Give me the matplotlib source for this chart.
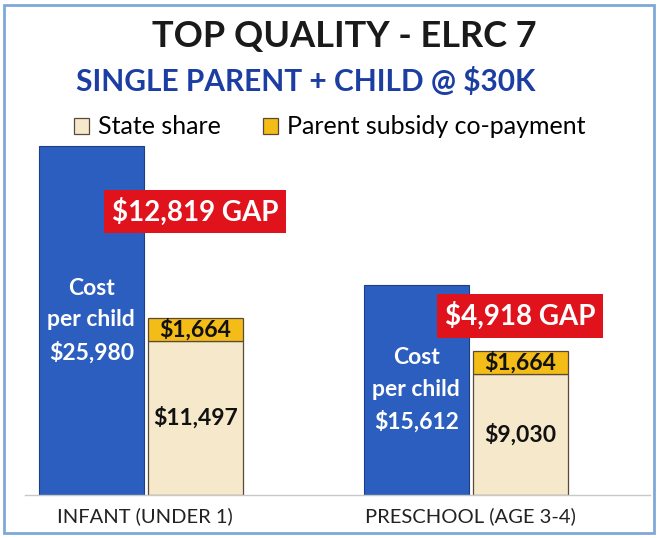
import matplotlib
matplotlib.use("Agg")
import matplotlib.pyplot as plt
from matplotlib.patches import Rectangle

plt.rcParams['font.family'] = ['Lato', 'DejaVu Sans']

categories = ["INFANT (UNDER 1)", "PRESCHOOL (AGE 3-4)"]
cost_per_child = [25980, 15612]
state_share = [11497, 9030]
parent_copay = [1664, 1664]
gap = [12819, 4918]
gap_label_frac = [0.62, 0.54]

BLUE = "#2B5EBE"
CREAM = "#F6E8CB"
GOLD = "#F3BC16"
RED = "#E0121C"

fig = plt.figure(figsize=(6.58, 5.38), dpi=100)
ax = fig.add_axes([25/658, 43/538, 625/658, 355/538])

x = list(range(len(categories)))
blue_off, blue_w = -0.165, 0.323
cream_off, cream_w = 0.155, 0.292

bx = [i + blue_off for i in x]
cx = [i + cream_off for i in x]

ax.bar(bx, cost_per_child, width=blue_w, color=BLUE, edgecolor="#1E3F86", linewidth=0.8, zorder=2)
b_state = ax.bar(cx, state_share, width=cream_w, color=CREAM, edgecolor="#5A4A3A", linewidth=0.9, zorder=2, label="State share")
b_copay = ax.bar(cx, parent_copay, bottom=state_share, width=cream_w, color=GOLD, edgecolor="#5A4A3A", linewidth=0.9, zorder=2, label="Parent subsidy co-payment")

for i in x:
    ax.text(bx[i], cost_per_child[i] / 2, f"Cost\nper child\n${cost_per_child[i]:,}",
            ha="center", va="center", color="white", fontsize=16.5, fontweight="bold",
            linespacing=1.6, zorder=3)
    ax.text(cx[i], state_share[i] / 2, f"${state_share[i]:,}", ha="center", va="center",
            color="#111111", fontsize=16.5, fontweight="bold", zorder=3)
    ax.text(cx[i], state_share[i] + parent_copay[i] / 2, f"${parent_copay[i]:,}", ha="center",
            va="center", color="#111111", fontsize=16.5, fontweight="bold", zorder=3)
    top = state_share[i] + parent_copay[i]
    gy = top + gap_label_frac[i] * (cost_per_child[i] - top)
    ax.text(cx[i], gy, f"${gap[i]:,} GAP", ha="center", va="center", color="white",
            fontsize=20, fontweight="bold", zorder=4,
            bbox=dict(boxstyle="square,pad=0.28", facecolor=RED, edgecolor="none"))

ax.set_xlim(-0.369, 1.554)
ax.set_ylim(0, 26430)
for s in ["top", "right", "left"]:
    ax.spines[s].set_visible(False)
ax.spines["bottom"].set_color("#C8C8C8")
ax.spines["bottom"].set_linewidth(1.0)
ax.set_yticks([])
ax.set_xticks(x)
ax.set_xticklabels(categories, fontsize=14.5, color="#222222")
ax.tick_params(axis="x", length=0, pad=9)
ax.set_facecolor("none")

fig.text(344/658, 1 - 37/538, "TOP QUALITY - ELRC 7", ha="center", va="center",
         fontsize=26, fontweight="bold", color="#1A1A1A")
fig.text(306/658, 1 - 82/538, "SINGLE PARENT + CHILD @ $30K", ha="center", va="center",
         fontsize=21.5, fontweight="bold", color="#1C3DA2")

fig.legend(handles=[b_state, b_copay], loc="center left", bbox_to_anchor=(64/658, 1 - 127/538),
           ncol=2, frameon=False, fontsize=18, handlelength=0.6, handleheight=0.6,
           handletextpad=0.35, columnspacing=1.7, borderaxespad=0)

fig.patches.append(Rectangle((4/658, 5/538), 650/658, 528/538, transform=fig.transFigure,
                             fill=False, edgecolor="#7FA8D8", linewidth=2.0))

fig.savefig("out.png", dpi=100)
